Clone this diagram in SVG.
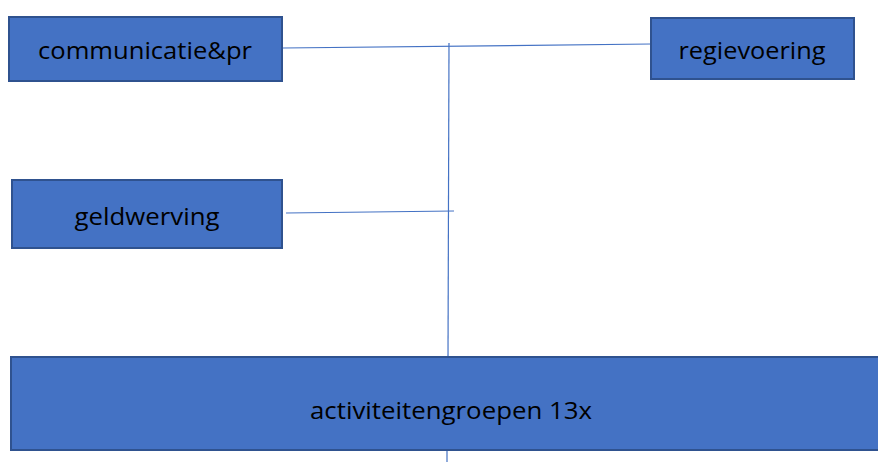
<svg xmlns="http://www.w3.org/2000/svg" width="878" height="462" viewBox="0 0 878 462">
<style>
.box{fill:#4472C4;stroke:#2F528F;stroke-width:2}
.lbl{font-family:"Open Sans","Liberation Sans",sans-serif;font-size:24px;fill:#000;text-anchor:middle;dominant-baseline:central}
.con{stroke:#4472C4;stroke-width:1.2;fill:none}
</style>
<rect width="878" height="462" fill="#fff"/>
<g id="connectors">
<line class="con" x1="283" y1="48" x2="651" y2="44"/>
<line class="con" x1="286" y1="213" x2="454" y2="211"/>
<line class="con" x1="449" y1="43" x2="448" y2="357"/>
<line class="con" x1="447" y1="450" x2="447" y2="462"/>
</g>
<g id="communicatie">
<rect class="box" x="9" y="17" width="273" height="64"/>
<text class="lbl" x="145" y="49" textLength="214" lengthAdjust="spacingAndGlyphs">communicatie&amp;pr</text>
</g>
<g id="regievoering">
<rect class="box" x="651" y="18" width="203" height="61"/>
<text class="lbl" x="752" y="49" textLength="147" lengthAdjust="spacingAndGlyphs">regievoering</text>
</g>
<g id="geldwerving">
<rect class="box" x="12" y="180" width="270" height="68"/>
<text class="lbl" x="147" y="215" textLength="145" lengthAdjust="spacingAndGlyphs">geldwerving</text>
</g>
<g id="activiteitengroepen">
<rect class="box" x="11" y="357" width="880" height="93"/>
<text class="lbl" x="451" y="409" textLength="282" lengthAdjust="spacingAndGlyphs">activiteitengroepen 13x</text>
</g>
</svg>
